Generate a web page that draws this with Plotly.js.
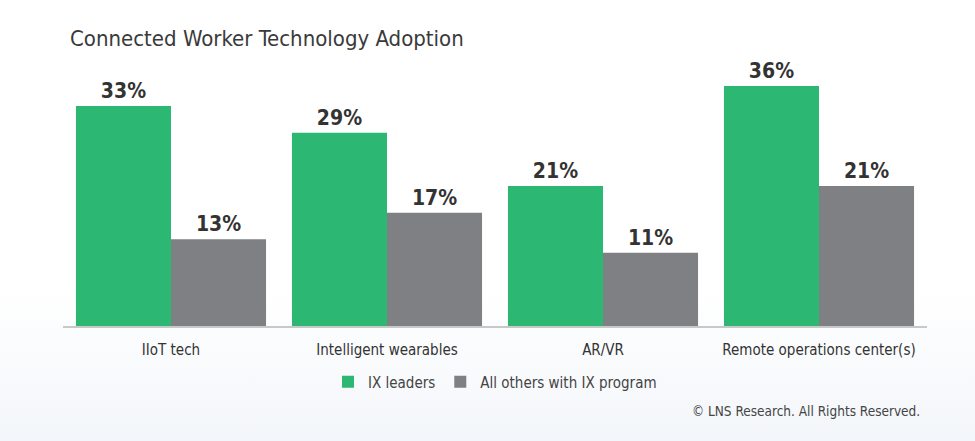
<!DOCTYPE html>
<html>
<head>
<meta charset="utf-8">
<script src="https://cdn.plot.ly/plotly-3.0.1.min.js"></script>
<style>
  html, body { margin:0; padding:0; }
  body { width:975px; height:441px; background: linear-gradient(to bottom, #ffffff 0px, #ffffff 290px, #f3f6fa 441px); }
  #chart { width:975px; height:441px; }
</style>
</head>
<body>
<div id="chart"></div>
<script>
const categories = ["IIoT tech", "Intelligent wearables", "AR/VR", "Remote operations center(s)"];
const ixLeaders = [33, 29, 21, 36];
const allOthers = [13, 17, 11, 21];
const seriesNames = ["IX leaders", "All others with IX program"];

const FONT = '"Liberation Sans Narrow", "DejaVu Sans Condensed", "Liberation Sans", sans-serif';

const mk = (name, vals, color) => ({
  type: 'bar',
  name: name,
  x: categories,
  y: vals,
  marker: { color: color },
  text: vals.map(v => v + '%'),
  textposition: 'outside',
  cliponaxis: false,
  textfont: { family: FONT, size: 21, color: '#333333', weight: 'bold' },
  hoverinfo: 'none'
});

const data = [
  mk(seriesNames[0], ixLeaders, '#2cb872'),
  mk(seriesNames[1], allOthers, '#7f8083')
];

const layout = {
  width: 975, height: 441,
  margin: { l: 63, r: 48, t: 60, b: 115 },
  paper_bgcolor: 'rgba(0,0,0,0)',
  plot_bgcolor: 'rgba(0,0,0,0)',
  barmode: 'group',
  bargap: 0.12,
  bargroupgap: 0,
  title: { text: 'Connected Worker Technology Adoption', x: 70/975, xanchor: 'left', xref: 'container',
           y: 1 - 38/441, yanchor: 'middle', yref: 'container',
           font: { family: FONT, size: 22, color: '#3a3a3a' } },
  xaxis: {
    showline: true, linecolor: '#c8c8c8', linewidth: 1.5,
    ticks: '', showgrid: false, zeroline: false,
    tickfont: { family: FONT, size: 15, color: '#333333' },
    ticklabelstandoff: 9
  },
  yaxis: { visible: false, range: [0, 39.9], showgrid: false, zeroline: false },
  showlegend: true,
  legend: {
    orientation: 'h', x: 0.5, xanchor: 'center', y: -(382-326)/266, yanchor: 'middle',
    font: { family: FONT, size: 15, color: '#444444' },
    itemwidth: 30, traceorder: 'normal', bgcolor: 'rgba(0,0,0,0)'
  },
  annotations: [{
    text: '© LNS Research. All Rights Reserved.', xref: 'paper', yref: 'paper',
    x: (922-63)/(975-63-48), xanchor: 'right', y: -(411-326)/266, yanchor: 'middle',
    showarrow: false, font: { family: FONT, size: 13.5, color: '#444444' }
  }]
};

Plotly.newPlot('chart', data, layout, { displayModeBar: false, staticPlot: true });
</script>
</body>
</html>
